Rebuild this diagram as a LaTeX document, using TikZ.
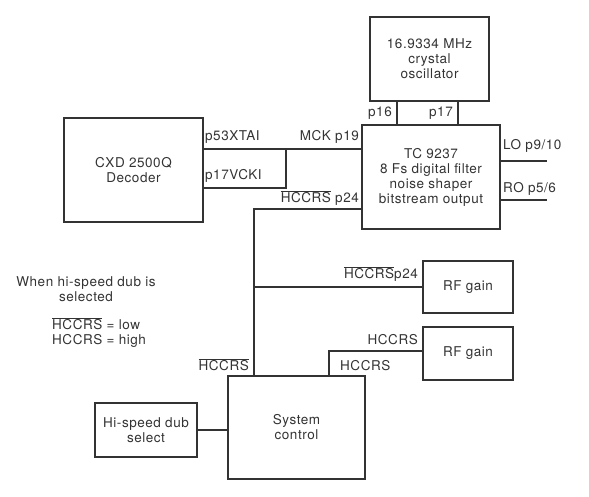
\documentclass[tikz,border=0pt]{standalone}
\usepackage{fontspec}
\setmainfont{TeX Gyre Heros}[LetterSpace=4]
\usetikzlibrary{positioning,calc}
\definecolor{ink}{HTML}{333333}
\newcommand{\barHCCRS}{$\overline{\mbox{HCCRS}}$}

\begin{document}
\begin{tikzpicture}[x=1pt, y=-1pt,
    font=\fontsize{13.5}{15}\selectfont, text=ink,
    block/.style={rectangle, draw=ink, line width=2pt, align=center, inner sep=0pt},
    wire/.style={draw=ink, line width=1.6pt},
    pin/.style={inner sep=0pt}
]
\useasboundingbox (0,0) rectangle (589,497);

% Blocks
\node[block, minimum width=119pt, minimum height=84pt] (xtal) at (429.5,59) {16.9334 MHz\\crystal\\oscillator};
\node[block, minimum width=138pt, minimum height=104pt] (tc) at (431,177) {TC 9237\\8 Fs digital filter\\noise shaper\\bitstream output};
\node[block, minimum width=139pt, minimum height=104pt] (cxd) at (133.5,170) {CXD 2500Q\\Decoder};
\node[block, minimum width=90pt, minimum height=52pt] (rfa) at (468,287) {RF gain};
\node[block, minimum width=90pt, minimum height=53pt] (rfb) at (468,353.5) {RF gain};
\node[block, minimum width=137pt, minimum height=103pt] (sys) at (296.5,427.5) {System\\control};
\node[block, minimum width=102pt, minimum height=54pt] (hsd) at (146,430) {Hi-speed dub\\select};

% Tap points
\coordinate (p16) at (397,0);
\coordinate (p17) at (458,0);
\coordinate (mck) at (0,149);
\coordinate (vck) at (0,188);
\coordinate (jn) at (286,149);
\coordinate (bus) at (254,209);
\coordinate (ctl) at (329,351);
\coordinate (lo) at (547,161);
\coordinate (ro) at (547,200);

% Wires
\draw[wire] (xtal.south -| p16) -- (tc.north -| p16);
\draw[wire] (xtal.south -| p17) -- (tc.north -| p17);
\draw[wire] (cxd.east |- mck) -- (tc.west |- mck);
\draw[wire] (cxd.east |- vck) -| (jn);
\draw[wire] (tc.west |- bus) -| (sys.north -| bus);
\draw[wire] (bus |- rfa.west) -- (rfa.west);
\draw[wire] (rfb.west |- ctl) -| (sys.north -| ctl);
\draw[wire] (tc.east |- lo) -- (lo);
\draw[wire] (tc.east |- ro) -- (ro);
\draw[wire] (hsd.east) -- (sys.west |- hsd.east);

% Pin labels
\node[pin, anchor=base east] (p16lbl) at (392,116.5) {p16};
\node[pin, anchor=base east] (p17lbl) at (453,116.5) {p17};
\node[pin, anchor=base west] (xtai) at (205,141) {p53XTAI};
\node[pin, anchor=base west] (vcki) at (205,179.5) {p17VCKI};
\node[pin, anchor=base east] (mcklbl) at (359,141) {MCK p19};
\node[pin, anchor=base east] (p24lbl) at (359,202.5) {\barHCCRS{} p24};
\node[pin, anchor=base west] (lolbl) at (503,149.5) {LO p9/10};
\node[pin, anchor=base west] (rolbl) at (503,192.5) {RO p5/6};
\node[pin, anchor=base east] (rfalbl) at (418,278.5) {\barHCCRS p24};
\node[pin, anchor=base east] (rfblbl) at (418,344.5) {HCCRS};
\node[pin, anchor=base west] (ctllbl) at (340,370.5) {HCCRS};
\node[pin, anchor=base east] (buslbl) at (249,370.5) {\barHCCRS};

% Note
\node[pin, align=center, anchor=base] (note) at (86,301) {When hi-speed dub is\\selected};
\node[pin, align=left, anchor=base west] (notelo) at (52,344.5) {\barHCCRS{} = low\\HCCRS = high};

\end{tikzpicture}
\end{document}
